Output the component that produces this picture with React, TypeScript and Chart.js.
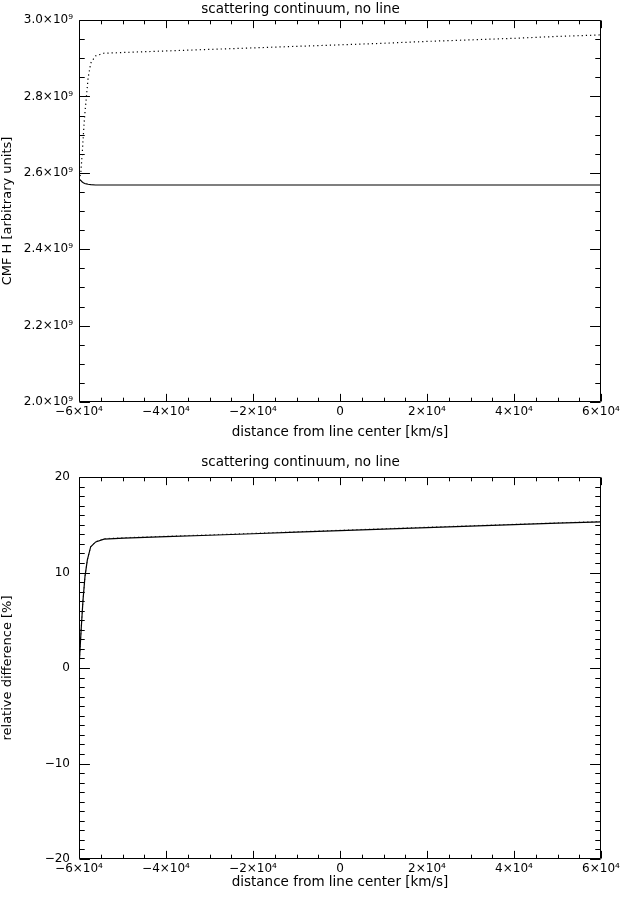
import React, { useEffect, useRef } from 'react';
import { Chart, registerables } from 'chart.js';

Chart.register(...registerables);

// ---------- data ----------
const TITLE = 'scattering continuum, no line';
const X_TITLE = 'distance from line center [km/s]';
const TOP_Y_TITLE = 'CMF H [arbitrary units]';
const BOTTOM_Y_TITLE = 'relative difference [%]';

// top panel (CMF H)
const xTop = [-60000, -59600, -59250, -59000, -58700, -58300, -57900, -57300, -56200, -54300, -49700, -40000, -30000, -20000, -10000, 0, 10000, 20000, 30000, 40000, 50000, 60000];
const hDotted = [2.581e9, 2.599e9, 2.651e9, 2.699e9, 2.749e9, 2.799e9, 2.849e9, 2.887e9, 2.906e9, 2.913e9, 2.915e9, 2.919e9, 2.923e9, 2.927e9, 2.931e9, 2.935e9, 2.939e9, 2.944e9, 2.948e9, 2.952e9, 2.957e9, 2.961e9];
const hSolid = [2.584e9, 2.58e9, 2.576e9, 2.574e9, 2.572e9, 2.571e9, 2.57e9, 2.569e9, 2.568e9, 2.568e9, 2.568e9, 2.568e9, 2.568e9, 2.568e9, 2.568e9, 2.568e9, 2.568e9, 2.568e9, 2.568e9, 2.568e9, 2.568e9, 2.568e9];

// bottom panel (relative difference, %)
const xBot = [-60000, -59770, -59470, -59080, -58620, -58090, -57310, -56160, -54250, -49650, -40000, -30000, -20000, -10000, 0, 10000, 20000, 30000, 40000, 50000, 60000];
const diffSolid = [0, 1.9, 4.3, 7.1, 9.6, 11.3, 12.7, 13.2, 13.5, 13.6, 13.75, 13.9, 14.06, 14.22, 14.38, 14.54, 14.7, 14.86, 15.01, 15.16, 15.3];
const diffDotted = [0, 1.9, 4.3, 7.1, 9.6, 11.3, 12.7, 13.25, 13.55, 13.65, 13.8, 13.95, 14.11, 14.27, 14.43, 14.59, 14.75, 14.9, 15.05, 15.2, 15.35];

// axis ranges / ticks
const X_MIN = -60000, X_MAX = 60000, X_STEP = 20000, X_MINOR = 5000;
const TOP_Y_MIN = 2.0e9, TOP_Y_MAX = 3.0e9, TOP_Y_STEP = 0.2e9, TOP_Y_MINOR = 0.05e9;
const BOT_Y_MIN = -20, BOT_Y_MAX = 20, BOT_Y_STEP = 10, BOT_Y_MINOR = 1;

const FONT = "'DejaVu Sans', 'Liberation Sans', sans-serif";

const fmtX = (v: number) => {
  if (Math.abs(v) < 1e-6) return '0';
  const m = Math.round(Math.abs(v) / 1e4);
  return `${v < 0 ? '\u2212' : ''}${m}\u00d710\u2074`;
};
const fmtTopY = (v: number) => `${(v / 1e9).toFixed(1)}\u00d710\u2079`;
const fmtBotY = (v: number) => {
  const r = Math.round(v);
  return r < 0 ? `\u2212${Math.abs(r)}` : `${r}`;
};

function boxPlugin(xMinor: number, yMinor: number) {
  return {
    id: 'idlBox',
    afterDatasetsDraw(chart: any) {
      const { ctx, chartArea: a, scales } = chart;
      const xs = scales.x, ys = scales.y;
      const L = Math.round(a.left) + 0.5;
      const R = Math.round(a.right) - 0.5;
      const T = Math.round(a.top) + 0.5;
      const B = Math.round(a.bottom) - 0.5;
      ctx.save();
      ctx.strokeStyle = '#000';
      ctx.lineWidth = 1;
      ctx.beginPath();
      ctx.rect(L, T, R - L, B - T);
      const xLen = 0.02 * (a.bottom - a.top);
      const yLen = 0.02 * (a.right - a.left);
      const xMaj = xs.ticks.map((t: any) => t.value);
      const yMaj = ys.ticks.map((t: any) => t.value);
      const nx = Math.round((xs.max - xs.min) / xMinor);
      for (let i = 0; i <= nx; i++) {
        const v = xs.min + i * xMinor;
        const major = xMaj.some((m: number) => Math.abs(m - v) < xMinor * 1e-3);
        const len = major ? xLen : xLen / 2;
        const px = Math.round(xs.getPixelForValue(v)) + 0.5;
        ctx.moveTo(px, B);
        ctx.lineTo(px, B - len);
        ctx.moveTo(px, T);
        ctx.lineTo(px, T + len);
      }
      const ny = Math.round((ys.max - ys.min) / yMinor);
      for (let i = 0; i <= ny; i++) {
        const v = ys.min + i * yMinor;
        const major = yMaj.some((m: number) => Math.abs(m - v) < yMinor * 1e-3);
        const len = major ? yLen : yLen / 2;
        const py = Math.round(ys.getPixelForValue(v)) + 0.5;
        ctx.moveTo(L, py);
        ctx.lineTo(L + len, py);
        ctx.moveTo(R, py);
        ctx.lineTo(R - len, py);
      }
      ctx.stroke();
      ctx.restore();
    },
  };
}

type PanelProps = {
  top: number;
  height: number;
  titlePad: { top: number; bottom: number };
  xAxisHeight: number;
  xTitlePad: number;
  yLabelPad: number;
  yTitle: string;
  yMin: number;
  yMax: number;
  yStep: number;
  yMinor: number;
  yFmt: (v: number) => string;
  datasets: any[];
};

function Panel(p: PanelProps) {
  const ref = useRef<HTMLCanvasElement | null>(null);
  useEffect(() => {
    if (!ref.current) return;
    const chart = new Chart(ref.current, {
      type: 'line',
      data: { datasets: p.datasets },
      options: {
        animation: false,
        responsive: false,
        devicePixelRatio: 1,
        layout: { padding: { left: 0, right: 20, top: 0, bottom: 0 } },
        plugins: {
          legend: { display: false },
          tooltip: { enabled: false },
          title: {
            display: true,
            text: TITLE,
            color: '#000',
            font: { family: FONT, size: 13.5, weight: 'normal', lineHeight: 1.2 },
            padding: p.titlePad,
          },
        },
        elements: { point: { radius: 0 }, line: { tension: 0 } },
        scales: {
          x: {
            type: 'linear',
            min: X_MIN,
            max: X_MAX,
            grid: { display: false, drawTicks: false },
            border: { display: false },
            ticks: {
              stepSize: X_STEP,
              autoSkip: false,
              maxRotation: 0,
              padding: 3,
              color: '#000',
              font: { family: FONT, size: 12 },
              callback: (v: any) => fmtX(Number(v)),
            },
            title: {
              display: true,
              text: X_TITLE,
              color: '#000',
              font: { family: FONT, size: 13.5 },
              padding: { top: 0, bottom: p.xTitlePad },
            },
            afterFit: (s: any) => {
              s.height = p.xAxisHeight;
              s.paddingLeft = 0;
              s.paddingRight = 0;
            },
          },
          y: {
            type: 'linear',
            min: p.yMin,
            max: p.yMax,
            grid: { display: false, drawTicks: false },
            border: { display: false },
            ticks: {
              stepSize: p.yStep,
              padding: p.yLabelPad,
              color: '#000',
              font: { family: FONT, size: 12 },
              callback: (v: any) => p.yFmt(Number(v)),
            },
            title: {
              display: true,
              text: p.yTitle,
              color: '#000',
              font: { family: FONT, size: 13 },
              padding: { top: 0, bottom: 0 },
            },
            afterFit: (s: any) => {
              s.width = 79;
              s.paddingTop = 0;
              s.paddingBottom = 0;
            },
          },
        },
      } as any,
      plugins: [boxPlugin(X_MINOR, p.yMinor)],
    });
    return () => chart.destroy();
  }, []);
  return (
    <canvas
      ref={ref}
      width={621}
      height={p.height}
      style={{ position: 'absolute', left: 0, top: p.top, width: 621, height: p.height, display: 'block' }}
    />
  );
}

const toPts = (xs: number[], ys: number[]) => xs.map((x, i) => ({ x, y: ys[i] }));

export default function App() {
  const topSets = [
    { data: toPts(xTop, hSolid), borderColor: '#000', borderWidth: 1.2, fill: false },
    { data: toPts(xTop, hDotted), borderColor: '#000', borderWidth: 1.2, borderDash: [1.2, 3], fill: false },
  ];
  const botSets = [
    { data: toPts(xBot, diffSolid), borderColor: '#000', borderWidth: 1.2, fill: false },
    { data: toPts(xBot, diffDotted), borderColor: '#444', borderWidth: 1, borderDash: [1.2, 3], fill: false },
  ];
  return (
    <div style={{ position: 'absolute', left: 0, top: 0, width: 621, height: 898, background: '#fff' }}>
      <Panel
        top={0}
        height={449}
        titlePad={{ top: 1.5, bottom: 2.3 }}
        xAxisHeight={47}
        xTitlePad={8}
        yLabelPad={6}
        yTitle={TOP_Y_TITLE}
        yMin={TOP_Y_MIN}
        yMax={TOP_Y_MAX}
        yStep={TOP_Y_STEP}
        yMinor={TOP_Y_MINOR}
        yFmt={fmtTopY}
        datasets={topSets}
      />
      <Panel
        top={449}
        height={449}
        titlePad={{ top: 5.5, bottom: 6.3 }}
        xAxisHeight={39}
        xTitlePad={7}
        yLabelPad={9}
        yTitle={BOTTOM_Y_TITLE}
        yMin={BOT_Y_MIN}
        yMax={BOT_Y_MAX}
        yStep={BOT_Y_STEP}
        yMinor={BOT_Y_MINOR}
        yFmt={fmtBotY}
        datasets={botSets}
      />
    </div>
  );
}
